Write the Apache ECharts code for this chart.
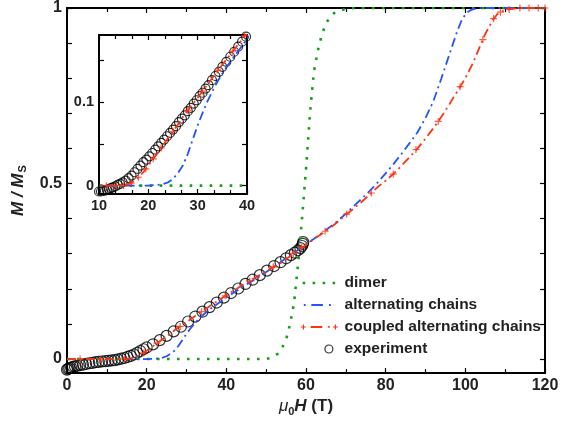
<!DOCTYPE html>
<html><head><meta charset="utf-8">
<script src="https://cdn.jsdelivr.net/npm/echarts@6/dist/echarts.min.js"></script>
<style>html,body{margin:0;padding:0;background:#fff}#c{width:569px;height:422px}</style>
</head><body><div id="c"></div>
<script>
// ---------- data ----------
const expField = [0,0.3,0.6,1.0,1.5,2.0,2.6,3.3,4.0,4.8,5.6,6.4,7.2,8.0,8.8,9.6,10.4,11.2,12.0,12.8,13.6,14.4,15.2,16.0,16.8,17.6,18.4,19.2,20.0,21.6,23.3,25.0,26.8,28.6,30.4,32.2,34.0,35.8,37.6,39.4,41.2,43.0,44.8,46.6,48.4,50.2,52.0,53.6,55.0,56.2,57.2,58.0,58.6,59.0,59.2,59.3];
const expM = [-0.030,-0.028,-0.026,-0.024,-0.022,-0.021,-0.019,-0.017,-0.016,-0.014,-0.012,-0.011,-0.009,-0.008,-0.007,-0.006,-0.005,-0.004,-0.003,-0.001,0.001,0.003,0.006,0.009,0.013,0.018,0.023,0.028,0.033,0.042,0.054,0.066,0.079,0.092,0.107,0.121,0.135,0.148,0.161,0.175,0.188,0.201,0.214,0.226,0.239,0.252,0.265,0.276,0.287,0.296,0.303,0.310,0.316,0.322,0.328,0.333];

const insetExpField = [10.0,10.4,10.8,11.2,11.6,12.0,12.4,12.8,13.3,13.8,14.3,14.8,15.4,16.0,16.6,17.2,17.8,18.4,19.0,19.6,20.2,20.8,21.4,22.0,22.6,23.2,23.8,24.4,25.0,25.6,26.2,26.8,27.4,28.0,28.6,29.2,29.8,30.4,31.0,31.6,32.2,32.9,33.6,34.3,35.0,35.8,36.6,37.4,38.2,39.0,39.8];
const insetExpM = [-0.007,-0.007,-0.006,-0.006,-0.005,-0.004,-0.003,-0.002,-0.001,0.001,0.002,0.004,0.006,0.009,0.012,0.016,0.020,0.024,0.028,0.031,0.035,0.039,0.043,0.047,0.051,0.055,0.059,0.063,0.067,0.071,0.076,0.080,0.084,0.089,0.093,0.098,0.102,0.107,0.111,0.116,0.120,0.126,0.131,0.136,0.142,0.148,0.154,0.160,0.166,0.172,0.178];

const dimerField = [0,50,51,52,53,54,55,56,57,58,59,60,61,62,63,64,65,66,67,68,70,72,120];
const dimerM = [0,0,0.003,0.008,0.016,0.032,0.055,0.100,0.160,0.270,0.400,0.540,0.700,0.820,0.880,0.925,0.955,0.975,0.985,0.991,0.997,1,1];

const altField = [0,20,22,23,24,25,26,27,28,29,30,31,32,33,34,35,36,37,38,39,40,42,44,46,48,50,52,54,56,58,60,62,64,66,68,70,72,74,76,78,80,82,84,86,88,90,92,94,96,98,99,100,101,102,104,120];
const altM = [0,0,0.001,0.002,0.004,0.008,0.015,0.024,0.038,0.055,0.072,0.087,0.101,0.113,0.124,0.134,0.143,0.151,0.159,0.167,0.175,0.190,0.205,0.219,0.233,0.248,0.263,0.279,0.295,0.311,0.327,0.343,0.359,0.376,0.394,0.414,0.436,0.457,0.479,0.503,0.529,0.556,0.585,0.615,0.646,0.687,0.735,0.800,0.868,0.935,0.963,0.982,0.992,0.997,1,1];

const coupledField = [0,10,12,13,14,15,16,17,18,19,20,21,22,23,24,25,26,27,28,30,32,34,36,38,40,42,44,46,48,50,52,54,56,58,60,62,64,66,68,70,72,74,76,78,80,82,84,86,88,90,92,94,96,98,100,102,104,105,106,107,108,109,110,112,114,120];
const coupledM = [0,0,0,0,0,0.001,0.002,0.005,0.010,0.016,0.024,0.032,0.040,0.048,0.057,0.065,0.073,0.082,0.090,0.105,0.121,0.137,0.152,0.167,0.182,0.196,0.210,0.223,0.237,0.250,0.263,0.276,0.293,0.310,0.325,0.342,0.357,0.373,0.391,0.411,0.429,0.448,0.469,0.490,0.508,0.528,0.551,0.575,0.600,0.628,0.658,0.690,0.726,0.763,0.800,0.845,0.900,0.926,0.947,0.967,0.982,0.990,0.994,0.998,1,1];

const coupledMarkField = [3.3,8.5,14.5,19.3,22.6,28.4,33.8,39.7,45.9,51.8,56.8,58.9,64.8,70.2,76.4,81.9,87.6,93.2,98.7,104.4,107.1,108.8,111.0,113.7,116.0,118.3,120.0];
const coupledMarkM = [0,0,0,0.018,0.045,0.093,0.135,0.180,0.222,0.262,0.301,0.318,0.364,0.413,0.473,0.527,0.597,0.677,0.776,0.910,0.970,0.988,0.996,1,1,1,1];

const insetMarkField = [11.5,13.5,15.0,16.5,18.0,19.5,21.0,22.6,25.0,28.0,31.0,34.1,37.0,39.5];
const insetMarkM = [0,0,0,0.003,0.010,0.020,0.032,0.045,0.065,0.090,0.113,0.138,0.160,0.179];

const seriesNames = ['dimer','alternating chains','coupled alternating chains','experiment'];
const mainYLabels = [0,0.5,1];
const mainYTicks = [0,0.1,0.2,0.3,0.4,0.5,0.6,0.7,0.8,0.9,1];
const insetYLabels = [0,0.1];
const insetYTicks = [0,0.05,0.1,0.15];

// ---------- style ----------
const GREEN = '#16a016', BLUE = '#2453ff', RED = '#ff3312';
const FONT = 'Liberation Sans';
const zip = (a,b) => a.map((v,i)=>[v,b[i]]);
const plusPath = 'path://M0 2.9h7v1.2h-7zM2.9 0h1.2v7h-1.2z';

function xAx(grid, pos, min, max, interval, split, fs, showLabel){
  return {type:'value', gridIndex:grid, position:pos, min, max, interval,
    axisLine:{show:true, onZero:false, lineStyle:{color:'#000', width:2}},
    axisTick:{show:true, inside:true, length:5, lineStyle:{color:'#000', width:1.2}},
    minorTick:{show:true, splitNumber:split, length:4, lineStyle:{color:'#000', width:1.2}},
    axisLabel:{show:showLabel, fontFamily:FONT, fontWeight:'bold', fontSize:fs, color:'#222', margin:4},
    splitLine:{show:false}, minorSplitLine:{show:false}};
}
function yAx(grid, pos, min, max, labels, ticks, fs, showLabel){
  return {type:'value', gridIndex:grid, position:pos, min, max,
    axisLine:{show:true, onZero:false, lineStyle:{color:'#000', width:2}},
    axisTick:{show:true, inside:true, length:5, customValues:ticks, lineStyle:{color:'#000', width:1.2}},
    axisLabel:{show:showLabel, customValues:labels, fontFamily:FONT, fontWeight:'bold', fontSize:fs, color:'#222', margin:5},
    splitLine:{show:false}};
}

const xMain = xAx(0,'bottom',0,120,20,2,16,true);
xMain.name = '{mu|μ}{sub|0}{h|H}{t| (T)}';
xMain.nameLocation = 'middle';
xMain.nameGap = 10;
xMain.nameTextStyle = {rich:{
  mu:{fontFamily:FONT, fontStyle:'italic', fontSize:17, color:'#222'},
  sub:{fontFamily:FONT, fontWeight:'bold', fontSize:11, color:'#222', padding:[10,0,0,0]},
  h:{fontFamily:FONT, fontWeight:'bold', fontStyle:'italic', fontSize:17, color:'#222'},
  t:{fontFamily:FONT, fontWeight:'bold', fontSize:17, color:'#222'}
}};
const yMain = yAx(0,'left',-0.04,1,mainYLabels,mainYTicks,16,true);
yMain.name = '{m|M / M}{sub|S}';
yMain.nameLocation = 'middle';
yMain.nameRotate = 90;
yMain.nameGap = 23;
yMain.nameTextStyle = {rich:{
  m:{fontFamily:FONT, fontWeight:'bold', fontStyle:'italic', fontSize:17, color:'#222'},
  sub:{fontFamily:FONT, fontWeight:'bold', fontSize:11, color:'#222', padding:[10,0,0,1]}
}};

const lineBase = (name, xi, yi, fx, fy, color, width, type) => ({
  name, type:'line', xAxisIndex:xi, yAxisIndex:yi, data:zip(fx,fy), symbol:'none', z:3,
  lineStyle:{color, width, type, cap:'butt'}, itemStyle:{color}, silent:true, clip:true});

const series = [
  {name:'experiment', type:'scatter', xAxisIndex:0, yAxisIndex:0, data:zip(expField,expM), symbol:'circle', symbolSize:11, z:2,
   itemStyle:{color:'rgba(0,0,0,0)', borderColor:'#000', borderWidth:1.2}, silent:true},
  lineBase('dimer',0,0,dimerField,dimerM,GREEN,2.6,[2.6,7.4]),
  lineBase('alternating chains',0,0,altField,altM,BLUE,1.8,[9,4,2,4]),
  lineBase('coupled alternating chains',0,0,coupledField,coupledM,RED,1.8,[9,4,2,4]),
  {name:'coupled alternating chains', type:'scatter', xAxisIndex:0, yAxisIndex:0, data:zip(coupledMarkField,coupledMarkM), symbol:plusPath, symbolSize:7, z:4,
   itemStyle:{color:RED}, silent:true},
  // inset
  {name:'experiment', type:'scatter', xAxisIndex:2, yAxisIndex:2, data:zip(insetExpField,insetExpM), symbol:'circle', symbolSize:9, z:12,
   itemStyle:{color:'rgba(0,0,0,0)', borderColor:'#000', borderWidth:1.2}, silent:true, clip:false},
  Object.assign(lineBase('dimer',2,2,dimerField,dimerM,GREEN,2.6,[2.6,7.4]),{z:13}),
  Object.assign(lineBase('alternating chains',2,2,altField,altM,BLUE,1.8,[9,4,2,4]),{z:13}),
  Object.assign(lineBase('coupled alternating chains',2,2,coupledField,coupledM,RED,1.8,[9,4,2,4]),{z:13}),
  {name:'coupled alternating chains', type:'scatter', xAxisIndex:2, yAxisIndex:2, data:zip(insetMarkField,insetMarkM), symbol:plusPath, symbolSize:7, z:14,
   itemStyle:{color:RED}, silent:true}
];

const B = 'M0 0M39 14'; // icon bounding box
const legendIcons = [
  'path://'+B+'M2 5.7h2.6v2.6h-2.6zM12 5.7h2.6v2.6h-2.6zM22 5.7h2.6v2.6h-2.6zM32 5.7h2.6v2.6h-2.6z',
  'path://'+B+'M3.2 6.1h1.8v1.8h-1.8zM10.7 6.1h11.6v1.8h-11.6zM28.4 6.1h1.8v1.8h-1.8z',
  'path://'+B+'M0.3 6.4h5v1.2h-5zM2.2 4.5h1.2v5h-1.2zM10 6.1h11.7v1.8h-11.7zM27.5 6.1h1.7v1.7h-1.7zM32.3 6.4h5v1.2h-5zM34.2 4.5h1.2v5h-1.2z',
  'path://'+B+'M32.3 7A4 4 0 1 1 24.3 7A4 4 0 1 1 32.3 7Z'
];
const legendColors = [GREEN, BLUE, RED, 'rgba(0,0,0,0)'];

const option = {
  animation:false,
  backgroundColor:'#fff',
  grid:[
    {left:67, right:24, top:7, bottom:46, containLabel:false},
    {left:99, top:35, width:148, height:159, show:true, backgroundColor:'#fff', borderWidth:0, z:10}
  ],
  xAxis:[
    xMain,
    xAx(0,'top',0,120,20,2,16,false),
    Object.assign(xAx(1,'bottom',10,40,10,3,14.5,true),{z:11}),
    Object.assign(xAx(1,'top',10,40,10,3,14.5,false),{z:11})
  ],
  yAxis:[
    yMain,
    yAx(0,'right',-0.04,1,mainYLabels,mainYTicks,16,false),
    Object.assign(yAx(1,'left',-0.01,0.18,insetYLabels,insetYTicks,14.5,true),{z:11}),
    Object.assign(yAx(1,'right',-0.01,0.18,insetYLabels,insetYTicks,14.5,false),{z:11})
  ],
  legend:{
    orient:'vertical', left:300, top:275, padding:0, itemWidth:39, itemHeight:14, itemGap:6,
    selectedMode:false,
    textStyle:{fontFamily:FONT, fontWeight:'bold', fontSize:15.5, color:'#222', lineHeight:14},
    data: seriesNames.map((n,i)=>({name:n, icon:legendIcons[i],
      itemStyle: i===3 ? {color:'rgba(0,0,0,0)', borderColor:'#000', borderWidth:1.2} : {color:legendColors[i], borderWidth:0}}))
  },
  series
};
const chart = echarts.init(document.getElementById('c'), null, {renderer:'canvas'});
chart.setOption(option);
</script></body></html>
